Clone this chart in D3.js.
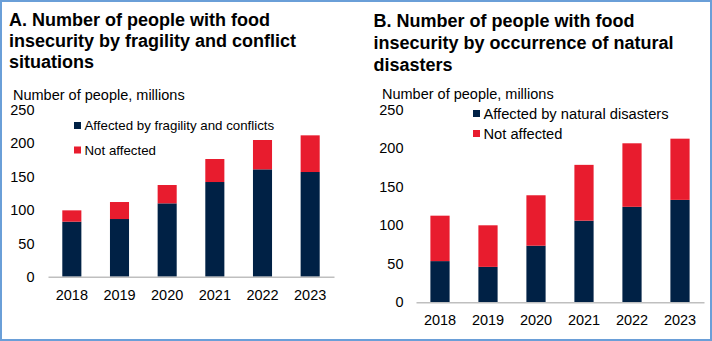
<!DOCTYPE html>
<html>
<head>
<meta charset="utf-8">
<script src="https://cdn.jsdelivr.net/npm/d3@7"></script>
<style>
  html, body { margin: 0; padding: 0; background: #fff; }
  svg { display: block; font-family: "Liberation Sans", Arial, sans-serif; }
</style>
</head>
<body>
<svg id="chart" width="712" height="341"></svg>
<script>
// Years shown on both panels
const years = ["2018", "2019", "2020", "2021", "2022", "2023"];
const yTicks = [0, 50, 100, 150, 200, 250];

// Panel A: food insecurity split by fragility and conflict (millions)
const fragilityAffected = [82.5, 86.5, 110, 142, 161, 157];
const fragilityNotAffected = [17, 25.5, 27.5, 34.5, 44, 55];

// Panel B: food insecurity split by occurrence of natural disasters (millions)
const disasterAffected = [53.5, 46, 73.5, 106, 124, 133];
const disasterNotAffected = [59, 54, 65.5, 72.5, 82.5, 79.5];

const NAVY = "#002145";
const RED = "#e81c2e";

const svg = d3.select("#chart");

// outer frame
svg.append("rect")
  .attr("x", 1).attr("y", 1).attr("width", 710).attr("height", 339)
  .attr("fill", "none").attr("stroke", "#6a9fd8").attr("stroke-width", 2);

const panels = [
  {
    title: ["A. Number of people with food", "insecurity by fragility and conflict", "situations"],
    titleX: 9, titleY: 20, titleStep: 21,
    unitX: 13, unitY: 95,
    legend: ["Affected by fragility and conflicts", "Not affected"],
    legendX: 74, legendY: [125.5, 150], legendSize: 13.3,
    affected: fragilityAffected, notAffected: fragilityNotAffected,
    xRange: [48, 334], yRange: [276.7, 110], tickRight: 34.5, yearY: 295
  },
  {
    title: ["B. Number of people with food", "insecurity by occurrence of natural", "disasters"],
    titleX: 373.5, titleY: 20.7, titleStep: 22.2,
    unitX: 382, unitY: 94,
    legend: ["Affected by natural disasters", "Not affected"],
    legendX: 473, legendY: [113.5, 133.5], legendSize: 14.7,
    affected: disasterAffected, notAffected: disasterNotAffected,
    xRange: [416, 704], yRange: [302.3, 109.8], tickRight: 403.5, yearY: 320
  }
];

panels.forEach(p => {
  const g = svg.append("g");

  // title
  p.title.forEach((line, i) => {
    g.append("text")
      .attr("x", p.titleX).attr("y", p.titleY + i * p.titleStep)
      .attr("dy", "0.35em")
      .attr("font-size", 18).attr("font-weight", "bold").attr("fill", "#000")
      .text(line);
  });

  // unit label
  g.append("text")
    .attr("x", p.unitX).attr("y", p.unitY).attr("dy", "0.35em")
    .attr("font-size", 14.5).attr("fill", "#000")
    .text("Number of people, millions");

  const x = d3.scaleBand().domain(years).range(p.xRange)
    .paddingInner(0.6).paddingOuter(0.3);
  const y = d3.scaleLinear().domain([0, 250]).range(p.yRange);

  // y tick labels
  const yAxis = d3.axisLeft(y).tickValues(yTicks).tickSize(0).tickPadding(0);
  const ya = g.append("g").attr("transform", `translate(${p.tickRight},0)`).call(yAxis);
  ya.select(".domain").remove();
  ya.selectAll("text").attr("font-size", 14.5).attr("fill", "#000")
    .attr("font-family", "Liberation Sans, Arial, sans-serif");

  // stacked bars
  const rows = years.map((yr, i) => ({ year: yr, affected: p.affected[i], notAffected: p.notAffected[i] }));
  const stacked = d3.stack().keys(["affected", "notAffected"])(rows);
  const colors = { affected: NAVY, notAffected: RED };

  stacked.forEach(layer => {
    g.append("g").selectAll("rect").data(layer).join("rect")
      .attr("x", d => x(d.data.year))
      .attr("width", x.bandwidth())
      .attr("y", d => y(d[1]))
      .attr("height", d => y(d[0]) - y(d[1]))
      .attr("fill", colors[layer.key]);
  });

  // x axis baseline and year labels
  const xAxis = d3.axisBottom(x).tickSize(0).tickPadding(0);
  const xa = g.append("g").attr("transform", `translate(0,${p.yRange[0]})`).call(xAxis);
  xa.select(".domain").attr("stroke", "#bfbfbf").attr("stroke-width", 1.5);
  xa.selectAll("text")
    .attr("y", p.yearY - p.yRange[0]).attr("dy", "0.35em")
    .attr("font-size", 14.5).attr("fill", "#000")
    .attr("font-family", "Liberation Sans, Arial, sans-serif");

  // legend
  [NAVY, RED].forEach((c, i) => {
    g.append("rect")
      .attr("x", p.legendX).attr("y", p.legendY[i] - 3.5)
      .attr("width", 7).attr("height", 7).attr("fill", c);
    g.append("text")
      .attr("x", p.legendX + 10.5).attr("y", p.legendY[i]).attr("dy", "0.35em")
      .attr("font-size", p.legendSize).attr("fill", "#000")
      .text(p.legend[i]);
  });
});
</script>
</body>
</html>
